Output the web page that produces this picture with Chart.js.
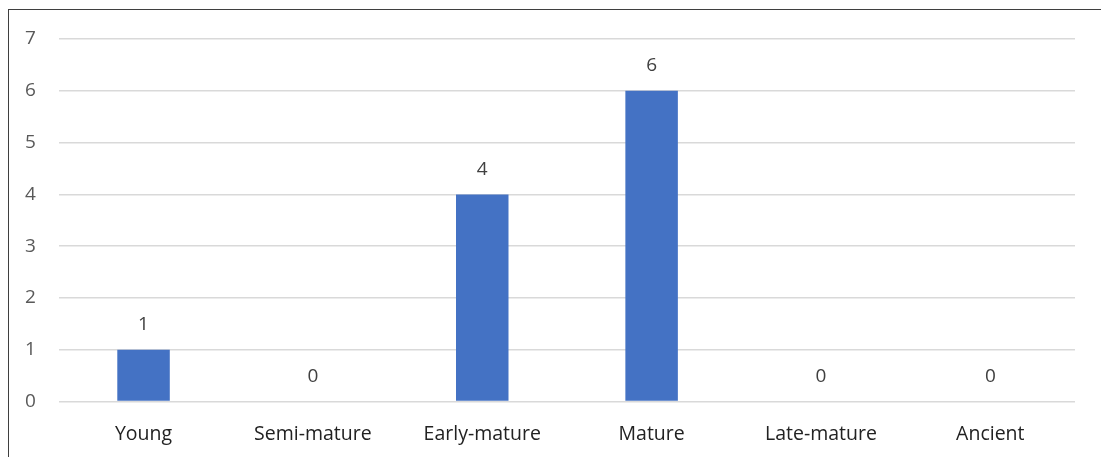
<!DOCTYPE html>
<html>
<head>
<meta charset="utf-8">
<script src="https://cdn.jsdelivr.net/npm/chart.js@4"></script>
<style>
  html, body { margin: 0; padding: 0; background: #fff; }
  #wrap { position: relative; width: 1101px; height: 457px; overflow: hidden; }
  #frame { position: absolute; left: 8px; top: 9px; width: 1200px; height: 500px;
    border-left: 1px solid #3f3f3f; border-top: 1px solid #3f3f3f; pointer-events: none; }
  canvas { position: absolute; left: 0; top: 0; }
</style>
</head>
<body>
<div id="wrap">
  <canvas id="chart" width="1101" height="480"></canvas>
  <div id="frame"></div>
</div>
<script>
'use strict';

// data
var stages = ['Young', 'Semi-mature', 'Early-mature', 'Mature', 'Late-mature', 'Ancient'];
var counts = [1, 0, 4, 6, 0, 0];
var yTicks = [0, 1, 2, 3, 4, 5, 6, 7];

var fontFamily = 'Open Sans';

// draw the value above each bar
var valueLabels = {
  id: 'valueLabels',
  afterDatasetsDraw: function (chart) {
    var ctx = chart.ctx;
    var meta = chart.getDatasetMeta(0);
    ctx.save();
    ctx.font = '19px ' + fontFamily;
    ctx.fillStyle = '#404040';
    ctx.textAlign = 'center';
    ctx.textBaseline = 'middle';
    meta.data.forEach(function (bar, i) {
      ctx.fillText(String(counts[i]), bar.x, bar.y - 25);
    });
    ctx.restore();
  }
};

var ctx = document.getElementById('chart').getContext('2d');
var chart = new Chart(ctx, {
  type: 'bar',
  data: {
    labels: stages,
    datasets: [{
      data: counts,
      backgroundColor: '#4472C4',
      barPercentage: 0.31,
      categoryPercentage: 1
    }]
  },
  options: {
    responsive: false,
    animation: false,
    layout: { padding: { left: 2, top: 39, right: 26, bottom: 13 } },
    plugins: {
      legend: { display: false },
      tooltip: { enabled: false }
    },
    scales: {
      x: {
        grid: { display: false, drawTicks: false },
        border: { display: false },
        ticks: { color: '#222', font: { family: fontFamily, size: 19.5 }, padding: 21 }
      },
      y: {
        min: 0,
        max: 7,
        afterBuildTicks: function (axis) {
          axis.ticks = yTicks.map(function (v) { return { value: v }; });
        },
        grid: { color: '#d9d9d9', lineWidth: 1.5, drawTicks: false },
        border: { display: false },
        ticks: { color: '#595959', font: { family: fontFamily, size: 19 }, padding: 23 }
      }
    }
  },
  plugins: [valueLabels]
});
</script>
</body>
</html>
